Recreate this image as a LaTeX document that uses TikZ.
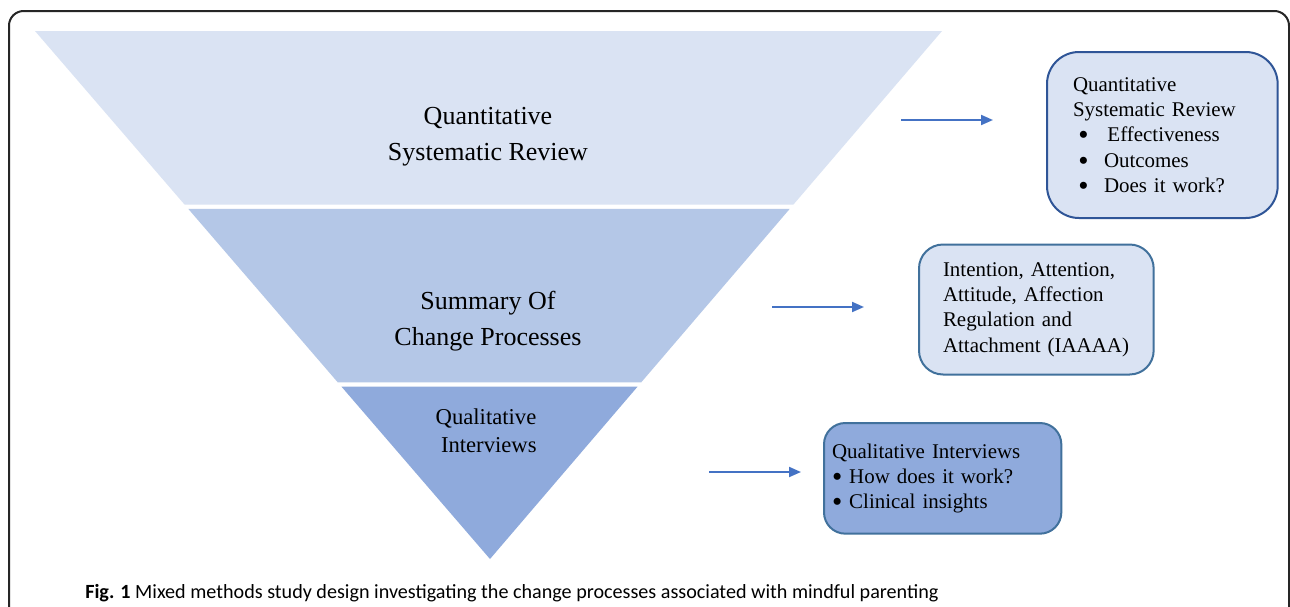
\documentclass[tikz,border=0pt]{standalone}
\usepackage{fontspec}
\setmainfont{Liberation Serif}
\newfontfamily\capfont{Carlito}
\usepackage{tikz}
\usetikzlibrary{calc,positioning,arrows.meta}
\definecolor{bandA}{HTML}{DAE3F3}
\definecolor{bandB}{HTML}{B4C7E7}
\definecolor{bandC}{HTML}{8FAADC}
\definecolor{boxline}{HTML}{41719C}
\definecolor{boxlineA}{HTML}{2F5597}
\definecolor{arrblue}{HTML}{4472C4}
\newcommand{\bul}{\raisebox{-2.3pt}[0pt][0pt]{\scalebox{1.4}{\textbullet}}}
\newcommand{\bitem}[1]{\makebox[23.25pt][l]{\hspace*{4pt}\bul}#1}

\begin{document}
\begin{tikzpicture}[x=0.75pt,y=-0.75pt]
\tikzstyle{stage}=[align=center, font=\fontsize{19.5}{27}\selectfont]
\tikzstyle{stagec}=[align=center, font=\fontsize{17}{21}\selectfont]
\tikzstyle{info}=[rectangle, rounded corners=22pt, line width=1.5pt, draw=boxline, align=left, font=\fontsize{15.7}{19}\selectfont, anchor=north west]
\tikzstyle{connect}=[-{Triangle[length=9pt,width=7.5pt]}, line width=1.5pt, arrblue]

\clip (0,0) rectangle (1290,607);
\fill[white] (0,0) rectangle (1290,607);

% outer frame
\draw[line width=1.5pt, black!85, rounded corners=11pt] (9,11) rectangle (1289,650);

% funnel
\coordinate (tl) at (35,31);
\coordinate (tr) at (942,31);
\coordinate (ap) at (490,559);

\fill[bandA] (tl) -- (tr) -- ($(tr)!0.3286!(ap)$) -- ($(tl)!0.3286!(ap)$) -- cycle;
\fill[bandB] ($(tl)!0.3371!(ap)$) -- ($(tr)!0.3371!(ap)$) -- ($(tr)!0.6657!(ap)$) -- ($(tl)!0.6657!(ap)$) -- cycle;
\fill[bandC] ($(tl)!0.6733!(ap)$) -- ($(tr)!0.6733!(ap)$) -- (ap) -- cycle;

\node[stage] (quant) at (488,136.5) {Quantitative\\Systematic Review};
\node[stage] (summ) at (488,321.5) {Summary Of\\Change Processes};
\node[stagec] (qual) at (486,431) {Qualitative\\\ Interviews};

% boxes
\node[info, fill=bandA, draw=boxlineA, rounded corners=24pt, text width=134pt, inner xsep=19.5pt, inner ysep=0pt, minimum height=124.5pt] (quantbox) at (1046,51)
	{Quantitative\\Systematic Review\\\bitem{\,Effectiveness}\\\bitem{Outcomes}\\\bitem{Does it work?}};
\node[info, fill=bandA, rounded corners=18pt, text width=140pt, inner xsep=18pt, inner ysep=0pt, minimum height=97.5pt] (iaaaa) at (918,243.5)
	{Intention, Attention,\\Attitude, Affection\\Regulation and\\Attachment (IAAAA)};
\node[info, fill=bandC, rounded corners=16pt, text width=166pt, inner xsep=6pt, inner ysep=0pt, minimum height=83pt] (qualbox) at (823,422)
	{Qualitative Interviews\\\bul\ How does it work?\\\bul\ Clinical insights};

% arrows
\coordinate (a1s) at (901,120);
\coordinate (a1e) at (993,120);
\coordinate (a2s) at (772,307);
\coordinate (a2e) at (864,307);
\coordinate (a3s) at (709,472);
\coordinate (a3e) at (801,472);
\path
	(a1s) edge [connect] (a1e)
	(a2s) edge [connect] (a2e)
	(a3s) edge [connect] (a3e);

% caption
\node[anchor=base west, inner sep=0pt, font=\capfont\fontsize{15.1}{17}\selectfont] (cap) at (85,598)
	{\textbf{Fig. 1} Mixed methods study design investigating the change processes associated with mindful parenting};
\end{tikzpicture}
\end{document}
